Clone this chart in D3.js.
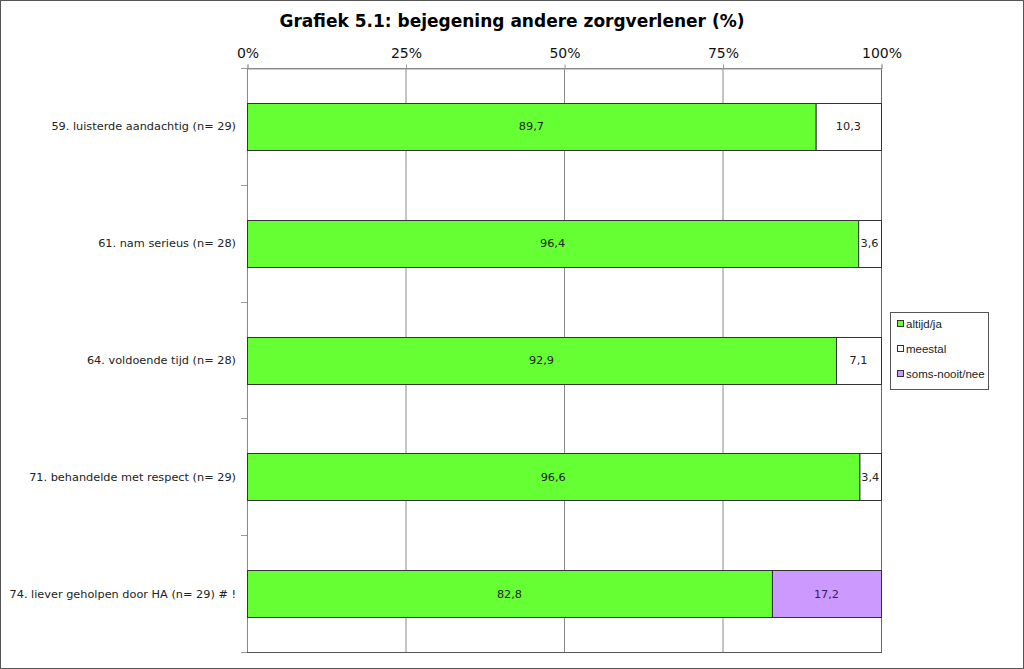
<!DOCTYPE html>
<html><head><meta charset="utf-8">
<script src="https://cdn.jsdelivr.net/npm/d3@7"></script>
<style>body{margin:0;background:#fff}svg{display:block}</style>
</head><body><svg id="c" width="1024" height="669"></svg>
<script>
const categories = ["59. luisterde aandachtig (n= 29)","61. nam serieus (n= 28)","64. voldoende tijd (n= 28)","71. behandelde met respect (n= 29)","74. liever geholpen door HA (n= 29) # !"];
const altijd = [89.7, 96.4, 92.9, 96.6, 82.8];
const meestal = [10.3, 3.6, 7.1, 3.4, 0];
const soms = [0, 0, 0, 0, 17.2];
const seriesNames = ["altijd/ja","meestal","soms-nooit/nee"];
const seriesColors = ["#66FF33","#FFFFFF","#CC99FF"];
const tickValues = [0,25,50,75,100];
const title = "Grafiek 5.1: bejegening andere zorgverlener (%)";

const svg = d3.select("#c");
svg.append("rect").attr("x",0.5).attr("y",0.5).attr("width",1023).attr("height",668).attr("fill","#fff").attr("stroke","#555");
const L=247,R=881,T=68,B=652;
const x = d3.scaleLinear().domain([0,100]).range([L,R]);
const y = d3.scaleBand().domain(categories).range([T,B]).paddingInner(0.6).paddingOuter(0.3);
const yb = d3.scaleBand().domain(categories).range([T,B]);

svg.append("text").attr("x",512).attr("y",27).attr("text-anchor","middle").attr("font-family","DejaVu Sans").attr("font-weight","bold").attr("font-size",17).attr("fill","#000").text(title);

// plot frame
svg.append("rect").attr("x",L+0.5).attr("y",T+0.5).attr("width",R-L).attr("height",B-T).attr("fill","#fff").attr("stroke","#777");
// grid
svg.selectAll(".g").data(tickValues).enter().append("line").attr("x1",d=>x(d)+0.5).attr("x2",d=>x(d)+0.5).attr("y1",T).attr("y2",B).attr("stroke","#888").attr("stroke-width",1);
svg.append("line").attr("x1",L).attr("x2",R+1).attr("y1",B+0.5).attr("y2",B+0.5).attr("stroke","#555");
svg.append("line").attr("x1",R+0.5).attr("x2",R+0.5).attr("y1",T).attr("y2",B+1).attr("stroke","#666");
// top axis
const ax = svg.append("g").attr("transform",`translate(0.5,${T+0.5})`).call(d3.axisTop(x).tickValues(tickValues).tickFormat(d=>d+"%").tickSize(4).tickPadding(7));
ax.select(".domain").attr("stroke","#999");
ax.selectAll("line").attr("stroke","#999");
ax.selectAll("text").attr("font-family","DejaVu Sans").attr("font-size",14).attr("fill","#111");
// left axis
svg.append("line").attr("x1",L+0.5).attr("x2",L+0.5).attr("y1",T).attr("y2",B).attr("stroke","#888");
const bounds = categories.map(c=>yb(c)).concat([B]);
svg.selectAll(".lt").data(bounds).enter().append("line").attr("x1",L-6).attr("x2",L).attr("y1",d=>Math.round(d)+0.5).attr("y2",d=>Math.round(d)+0.5).attr("stroke","#999");
svg.selectAll(".cl").data(categories).enter().append("text").attr("x",L-11).attr("y",d=>yb(d)+yb.bandwidth()/2).attr("dy","0.35em").attr("text-anchor","end").attr("font-family","DejaVu Sans").attr("font-size",11.3).attr("fill","#222").text(d=>d);

const series = [altijd, meestal, soms];
const labelColors = ["#222","#222","#3a1a5a"];
categories.forEach((c,i)=>{
  let acc=0;
  series.forEach((s,k)=>{
    const v=s[i];
    if(v>0){
      svg.append("rect").attr("x",x(acc)+0.5).attr("y",Math.round(y(c))+0.5).attr("width",x(acc+v)-x(acc)).attr("height",Math.round(y.bandwidth())).attr("fill",seriesColors[k]).attr("stroke","#333").attr("stroke-width",1);
      svg.append("text").attr("x",(x(acc)+x(acc+v))/2).attr("y",y(c)+y.bandwidth()/2).attr("dy","0.35em").attr("text-anchor","middle").attr("font-family","DejaVu Sans").attr("font-size",11.3).attr("fill",labelColors[k]).text(String(v).replace(".",","));
    }
    acc+=v;
  });
});

// legend
const lg = svg.append("g");
lg.append("rect").attr("x",890.5).attr("y",312.5).attr("width",98).attr("height",77).attr("fill","#fff").attr("stroke","#555");
seriesNames.forEach((n,k)=>{
  const yy=324+k*25;
  lg.append("rect").attr("x",897.5).attr("y",yy-3.5).attr("width",6).attr("height",6).attr("fill",seriesColors[k]).attr("stroke","#333");
  lg.append("text").attr("x",906).attr("y",yy).attr("dy","0.35em").attr("font-family","Liberation Sans").attr("font-size",11.5).attr("fill","#222").text(n);
});
</script></body></html>
